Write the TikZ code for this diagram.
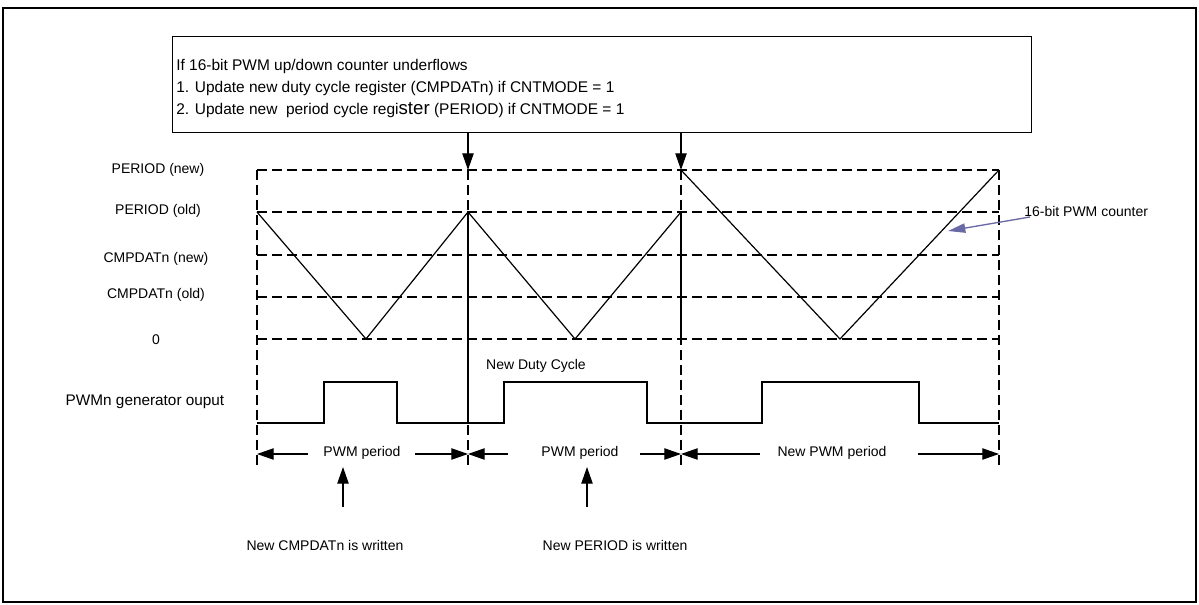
\documentclass[tikz,border=0pt]{standalone}
\usepackage{fontspec}
\setmainfont{Liberation Sans}
\usetikzlibrary{arrows.meta}
\begin{document}
\begin{tikzpicture}[x=0.75pt,y=-0.75pt,
  grid/.style={line width=0.9pt,dash pattern=on 7.5pt off 3.75pt},
  wave/.style={line width=0.9pt},
  arr/.style={line width=0.9pt,-{Triangle[length=12.5pt,width=8.5pt]}},
  bluearr/.style={line width=1pt,draw={rgb,255:red,105;green,105;blue,165},-{Triangle[length=13pt,width=7pt]}},
  lbl/.style={inner sep=0pt,font=\fontsize{10.5}{12.6}\selectfont},
  biglbl/.style={inner sep=0pt,font=\fontsize{11.5}{13.8}\selectfont},
  boxtxt/.style={inner sep=0pt,font=\fontsize{11.6}{14}\selectfont},
  infobox/.style={draw,line width=1pt}]
\useasboundingbox (0,0) rectangle (1199,605);
% outer frame
\draw[line width=2pt] (3,8) rectangle (1196,602);
% top information box
\node[infobox,minimum width=859*0.75pt,minimum height=96*0.75pt,anchor=north west] (info) at (172,36) {};
\node[boxtxt,anchor=west] (t1) at (176,67) {If 16-bit PWM up/down counter underflows};
\node[boxtxt,anchor=west] (t2) at (176,89) {1. Update new duty cycle register (CMPDATn) if CNTMODE = 1};
\node[boxtxt,anchor=west] (t3) at (176,110) {2. Update new\ \ period cycle regi{\fontsize{14}{15}\selectfont ster} (PERIOD) if CNTMODE = 1};
% level lines
\coordinate (pn0) at (257,170); \coordinate (pn1) at (999,170);
\coordinate (po0) at (257,212); \coordinate (po1) at (999,212);
\coordinate (cn0) at (257,255); \coordinate (cn1) at (999,255);
\coordinate (co0) at (257,297); \coordinate (co1) at (999,297);
\coordinate (z0) at (257,339);  \coordinate (z1) at (999,339);
\foreach \a/\b in {pn0/pn1,po0/po1,cn0/cn1,co0/co1,z0/z1} \draw[grid] (\a) -- (\b);
% vertical dashed lines
\coordinate (va) at (257,170); \coordinate (vab) at (257,466);
\coordinate (vb) at (468,170); \coordinate (vbb) at (468,466);
\coordinate (vc) at (681,170); \coordinate (vcb) at (681,466);
\coordinate (vd) at (999,170); \coordinate (vdb) at (999,466);
\foreach \a/\b in {va/vab,vb/vbb,vc/vcb,vd/vdb} \draw[grid] (\a) -- (\b);
% solid markers at reload points
\coordinate (pk1) at (468,212); \coordinate (pk1b) at (468,423);
\coordinate (pk2) at (681,212); \coordinate (pk2b) at (681,339);
\draw[wave] (pk1) -- (pk1b);
\draw[wave] (pk2) -- (pk2b);
% arrows from info box
\draw[arr] (info.south -| vb) -- (vb);
\draw[arr] (info.south -| vc) -- (vc);
% counter waveform
\draw[wave] (257,212) -- (366,339) -- (468,212) -- (575,339) -- (681,212);
\draw[wave] (681,170) -- (840,339) -- (999,170);
% PWM output
\draw[wave] (257,423) -- (324,423) -- (324,382) -- (397,382) -- (397,423) -- (504,423) -- (504,382)
  -- (647,382) -- (647,423) -- (762,423) -- (762,382) -- (919,382) -- (919,423) -- (999,423);
% left labels
\node[lbl] (lpn) at (158,170) {PERIOD (new)};
\node[lbl] (lpo) at (158,211) {PERIOD (old)};
\node[lbl] (lcn) at (156,259) {CMPDATn (new)};
\node[lbl] (lco) at (156,295) {CMPDATn (old)};
\node[lbl] (lz) at (156,340) {0};
\node[biglbl] (lpwm) at (145,402) {PWMn generator ouput};
\node[lbl] (ndc) at (536,366) {New Duty Cycle};
% counter label
\node[lbl,anchor=west] (cnt) at (1024,211) {16-bit PWM counter};
\coordinate (cs) at (1030,217); \coordinate (ct) at (948,231);
\draw[bluearr] (cs) -- (ct);
% period dimension arrows
\coordinate (d1) at (257,454); \coordinate (d2) at (468,454);
\coordinate (d3) at (681,454); \coordinate (d4) at (999,454);
\node[lbl] (per1) at (362,453) {PWM period};
\node[lbl] (per2) at (580,453) {PWM period};
\node[lbl] (per3) at (832,453) {New PWM period};
\coordinate (s1l) at (308,454); \coordinate (s1r) at (415,454);
\coordinate (s2l) at (508,454); \coordinate (s2r) at (640,454);
\coordinate (s3l) at (760,454); \coordinate (s3r) at (918,454);
\draw[arr] (s1l) -- (d1); \draw[arr] (s1r) -- (d2);
\draw[arr] (s2l) -- (d2); \draw[arr] (s2r) -- (d3);
\draw[arr] (s3l) -- (d3); \draw[arr] (s3r) -- (d4);
% write events
\coordinate (w1) at (343,507); \coordinate (w1t) at (343,467);
\coordinate (w2) at (587,507); \coordinate (w2t) at (587,467);
\draw[arr] (w1) -- (w1t);
\draw[arr] (w2) -- (w2t);
\node[lbl] (nc) at (325,545) {New CMPDATn is written};
\node[lbl] (np) at (615,545) {New PERIOD is written};
\end{tikzpicture}
\end{document}
